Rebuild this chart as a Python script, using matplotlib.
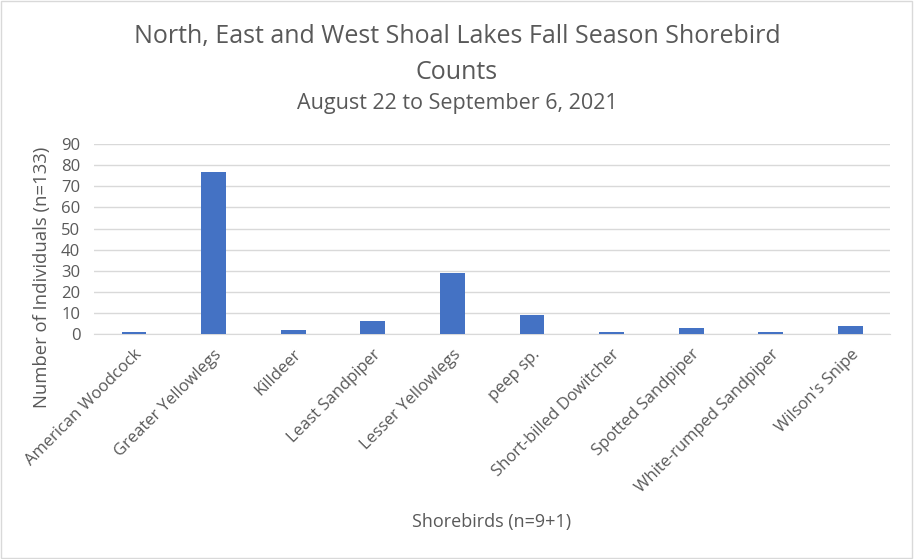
import matplotlib.pyplot as plt
from matplotlib.patches import Rectangle

species = ['American Woodcock', 'Greater Yellowlegs', 'Killdeer', 'Least Sandpiper',
           'Lesser Yellowlegs', 'peep sp.', 'Short-billed Dowitcher', 'Spotted Sandpiper',
           'White-rumped Sandpiper', "Wilson's Snipe"]
counts = [1, 77, 2, 6, 29, 9, 1, 3, 1, 4]
yticks = list(range(0, 91, 10))

plt.rcParams['font.family'] = ['Open Sans', 'DejaVu Sans']
grey = '#595959'

fig = plt.figure(figsize=(9.14, 5.59), dpi=100)
ax = fig.add_axes([0.103, 0.4025, 0.871, 0.3395])

x = range(len(species))
ax.bar(x, counts, width=0.31, color='#4472C4', zorder=3)
ax.set_xlim(-0.5, len(species) - 0.5)
ax.set_ylim(0, 90)
ax.set_yticks(yticks)
ax.grid(axis='y', color='#d9d9d9', linewidth=1, zorder=0)
for s in ['top', 'right', 'left']:
    ax.spines[s].set_visible(False)
ax.spines['bottom'].set_color('#d9d9d9')
ax.tick_params(axis='both', length=0, colors=grey, labelsize=12)
ax.set_xticks(list(x))
ax.set_xticklabels(species, rotation=45, ha='right', rotation_mode='anchor')
ax.tick_params(axis='x', pad=9)
ax.tick_params(axis='y', pad=10)

fig.text(0.046, 0.503, 'Number of Individuals (n=133)', rotation=90, ha='center',
         va='center', color=grey, fontsize=13.3)
fig.text(0.538, 0.058, 'Shorebirds (n=9+1)', ha='center', color=grey, fontsize=13)

fig.text(0.5, 0.934, 'North, East and West Shoal Lakes Fall Season Shorebird', ha='center',
         va='center', color=grey, fontsize=18)
fig.text(0.5, 0.871, 'Counts', ha='center', va='center', color=grey, fontsize=18)
fig.text(0.5, 0.815, 'August 22 to September 6, 2021', ha='center', va='center',
         color=grey, fontsize=15.5)

fig.patches.append(Rectangle((0.001, 0.001), 0.997, 0.997, transform=fig.transFigure,
                             fill=False, edgecolor='#d9d9d9', linewidth=1))

fig.savefig('out.png', dpi=100)
